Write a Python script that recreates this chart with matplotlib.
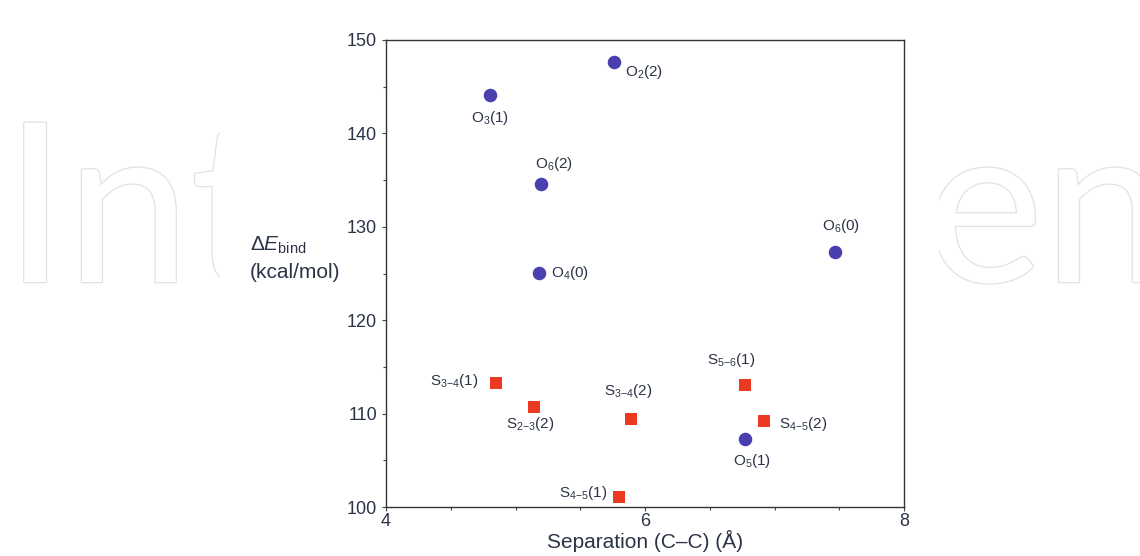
import matplotlib
matplotlib.use("Agg")
import matplotlib.pyplot as plt
import matplotlib.patheffects as pe
from matplotlib.patches import Rectangle
from matplotlib.ticker import MultipleLocator, FixedLocator

# datos
o_sep = [5.76, 4.80, 5.20, 5.18, 7.47, 6.77]
o_ebind = [147.6, 144.1, 134.6, 125.1, 127.3, 107.3]
o_labels = ["O$_2$(2)", "O$_3$(1)", "O$_6$(2)", "O$_4$(0)", "O$_6$(0)", "O$_5$(1)"]

s_sep = [4.85, 5.14, 5.89, 5.80, 6.77, 6.92]
s_ebind = [113.3, 110.7, 109.4, 101.1, 113.1, 109.2]
s_labels = ["S$_{3{-}4}$(1)", "S$_{2{-}3}$(2)", "S$_{3{-}4}$(2)",
            "S$_{4{-}5}$(1)", "S$_{5{-}6}$(1)", "S$_{4{-}5}$(2)"]

# posición de cada etiqueta (px, alineación)
o_offs = [((11, -10), "left"), ((0, -23), "center"), ((13, 20), "center"),
          ((12, 0), "left"), ((6, 26), "center"), ((7, -22), "center")]
s_offs = [((-18, 2), "right"), ((-3, -17), "center"), ((-2, 28), "center"),
          ((-12, 4), "right"), ((-13, 25), "center"), ((15, -3), "left")]

plt.rcParams['font.family'] = ['Liberation Sans', 'DejaVu Sans']
plt.rcParams['mathtext.fontset'] = 'custom'
plt.rcParams['mathtext.rm'] = 'Liberation Sans'
plt.rcParams['mathtext.it'] = 'Liberation Sans:italic'

txt = '#2b3346'
fig = plt.figure(figsize=(11.4, 5.56), dpi=100)

# marca de agua (fondo)
for s, x in [("Int", 4), ("en", 926)]:
    fig.text(x / 1140, 1 - 282 / 556, s, fontsize=160, family='Lato', weight='normal',
             color='white', ha='left', va='baseline', zorder=0,
             path_effects=[pe.Stroke(linewidth=1.8, foreground='#e2e2e2'), pe.Normal()])
fig.patches.append(Rectangle((220 / 1140, 0), 719 / 1140, 1, transform=fig.transFigure,
                             facecolor='white', edgecolor='none', zorder=1))

ax = fig.add_axes([386 / 1140, 49 / 556, 518 / 1140, 467 / 556])
ax.set_zorder(2)

ax.scatter(o_sep, o_ebind, s=95, marker='o', color='#4a3fae', zorder=3, linewidths=0)
ax.scatter(s_sep, s_ebind, s=85, marker='s', color='#ec3a22', zorder=3, linewidths=0)

for x, y, lab, (off, ha) in zip(o_sep, o_ebind, o_labels, o_offs):
    ax.annotate(lab, (x, y), xytext=(off[0] * 0.72, off[1] * 0.72), textcoords='offset points',
                ha=ha, va='center', fontsize=11, color=txt)
for x, y, lab, (off, ha) in zip(s_sep, s_ebind, s_labels, s_offs):
    ax.annotate(lab, (x, y), xytext=(off[0] * 0.72, off[1] * 0.72), textcoords='offset points',
                ha=ha, va='center', fontsize=11, color=txt)

ax.set_xlim(4, 8)
ax.set_ylim(100, 150)
ax.xaxis.set_major_locator(FixedLocator([4, 6, 8]))
ax.xaxis.set_minor_locator(MultipleLocator(0.5))
ax.yaxis.set_major_locator(MultipleLocator(10))
ax.yaxis.set_minor_locator(MultipleLocator(5))
ax.tick_params(which='both', direction='out', length=3, width=0.8, color='#444444',
               labelsize=13, labelcolor=txt, top=False, right=False)
ax.tick_params(axis='x', pad=1.5)
ax.tick_params(which='minor', length=2)
for sp in ax.spines.values():
    sp.set_color('#333333')
    sp.set_linewidth(1.0)

ax.set_xlabel('Separation (C–C) (Å)', fontsize=15, color=txt, labelpad=0)
fig.text(250 / 1140, 1 - 245 / 556, r'$\Delta \mathit{E}_{\mathrm{bind}}$', fontsize=15,
         color=txt, ha='left', va='center', zorder=3)
fig.text(250 / 1140, 1 - 272 / 556, '(kcal/mol)', fontsize=15, color=txt,
         ha='left', va='center', zorder=3)

plt.savefig('out.png', dpi=100)
